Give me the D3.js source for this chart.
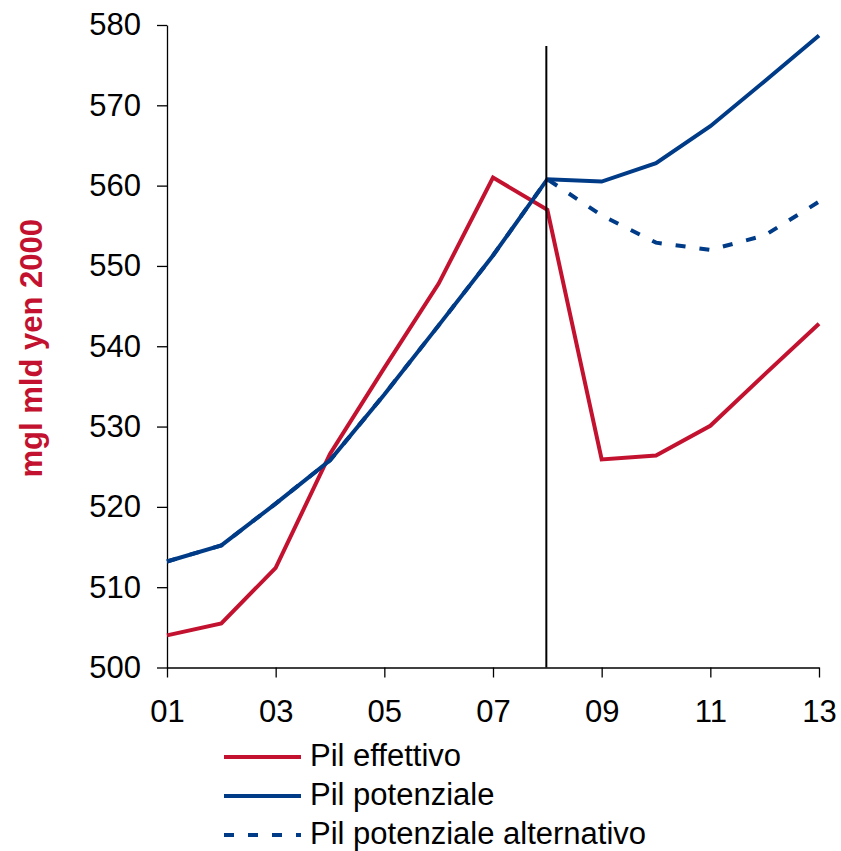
<!DOCTYPE html>
<html><head><meta charset="utf-8">
<script src="https://cdn.jsdelivr.net/npm/d3@7"></script>
<style>
html,body{margin:0;padding:0;background:#fff;}
svg{display:block;font-family:"Liberation Sans",Arial,sans-serif;}
</style></head>
<body>
<script>
const years = [1,2,3,4,5,6,7,8,9,10,11,12,13];
const xTickValues = [1,3,5,7,9,11,13];
const xTickLabels = ["01","03","05","07","09","11","13"];
const yTickValues = [500,510,520,530,540,550,560,570,580];
const pilEffettivo = [504.0, 505.5, 512.4, 526.6, 537.3, 547.8, 561.0, 557.0, 525.9, 526.4, 530.1, 536.5, 542.8];
const pilPotenziale = [513.2, 515.2, 520.4, 525.8, 534.0, 542.6, 551.3, 560.8, 560.5, 562.8, 567.4, 573.0, 578.7];
const pilAlternativo = [513.2, 515.2, 520.4, 525.8, 534.0, 542.6, 551.3, 560.8, 556.3, 552.9, 552.0, 553.8, 558.0];
const seriesNames = ["Pil effettivo","Pil potenziale","Pil potenziale alternativo"];
const markerYear = 8;
const yTitle = "mgl mld yen 2000";

const W = 841, H = 851;
const red = "#C3122F", blue = "#003B87";
const svg = d3.select("body").append("svg").attr("width", W).attr("height", H);

const x = d3.scaleLinear().domain([1,13]).range([167, 819]);
const y = d3.scaleLinear().domain([500,580]).range([667.5, 25]);

// axes
const yAxis = d3.axisLeft(y).tickValues(yTickValues).tickSize(10).tickSizeOuter(0).tickPadding(16).tickFormat(d3.format("d"));
const gy = svg.append("g").attr("transform", `translate(${x(1)},0)`).call(yAxis);
gy.selectAll("text").attr("font-size", 31).attr("fill", "#000").attr("font-family", "Liberation Sans, Arial, sans-serif");
gy.selectAll("line,path").attr("stroke", "#000").attr("stroke-width", 1.3);

const xAxis = d3.axisBottom(x).tickValues(xTickValues).tickSize(10).tickSizeOuter(0).tickPadding(22)
  .tickFormat((d,i) => xTickLabels[i]);
const gx = svg.append("g").attr("transform", `translate(0,${y(500)})`).call(xAxis);
gx.selectAll("text").attr("font-size", 31).attr("fill", "#000").attr("font-family", "Liberation Sans, Arial, sans-serif");
gx.selectAll("line,path").attr("stroke", "#000").attr("stroke-width", 1.3);

// y title
svg.append("text")
  .attr("transform", `translate(42,${y(540)+2}) rotate(-90)`)
  .attr("text-anchor", "middle")
  .attr("font-weight", "bold")
  .attr("font-size", 31)
  .attr("fill", red)
  .text(yTitle);

const line = d3.line().x((d,i) => x(years[i])).y(d => y(d));

svg.append("path").datum(pilEffettivo).attr("d", line)
  .attr("fill","none").attr("stroke", red).attr("stroke-width", 4).attr("stroke-linejoin","miter");
svg.append("path").datum(pilPotenziale).attr("d", line)
  .attr("fill","none").attr("stroke", blue).attr("stroke-width", 4).attr("stroke-linejoin","miter");
svg.append("path").datum(pilAlternativo).attr("d", line)
  .attr("fill","none").attr("stroke", blue).attr("stroke-width", 4).attr("stroke-dasharray","10,14");

// vertical marker
svg.append("line")
  .attr("x1", x(markerYear)-1).attr("x2", x(markerYear)-1)
  .attr("y1", 46).attr("y2", y(500))
  .attr("stroke", "#000").attr("stroke-width", 2);

// legend
const legend = svg.append("g");
const styles = [
  {c: red, dash: null},
  {c: blue, dash: null},
  {c: blue, dash: "10,14"}
];
seriesNames.forEach((name, i) => {
  const ly = 757 + i*39;
  legend.append("line").attr("x1", 224).attr("x2", 301).attr("y1", ly).attr("y2", ly)
    .attr("stroke", styles[i].c).attr("stroke-width", 4)
    .attr("stroke-dasharray", styles[i].dash);
  legend.append("text").attr("x", 310).attr("y", ly + 9)
    .attr("font-size", 31).attr("fill", "#000").text(name);
});
</script>
</body></html>
